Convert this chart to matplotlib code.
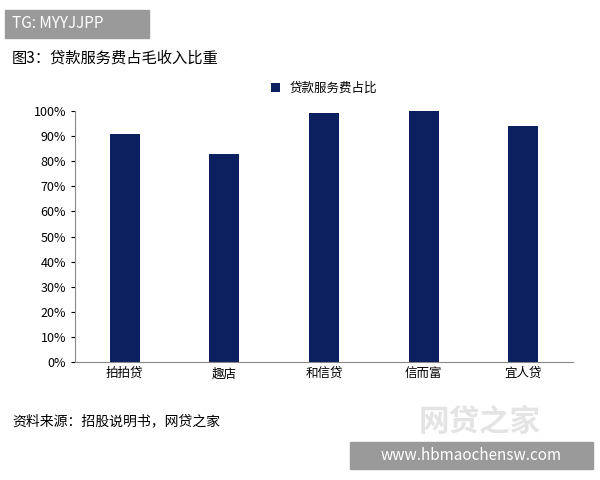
import matplotlib.pyplot as plt
from matplotlib.patches import Rectangle

plt.rcParams['font.family'] = ['Noto Sans CJK SC', 'DejaVu Sans']

categories = ['拍拍贷', '趣店', '和信贷', '信而富', '宜人贷']
share = [0.91, 0.83, 0.99, 1.00, 0.94]
yticks = [i / 10 for i in range(11)]
ytick_labels = [f'{i * 10}%' for i in range(11)]

fig = plt.figure(figsize=(6, 4.8), dpi=100)
ax = fig.add_axes([0.125, 0.245, 0.83, 0.524])

ax.bar(categories, share, width=0.3, color='#0c1f5e', label='贷款服务费占比')
ax.set_ylim(0, 1.0)
ax.set_xlim(-0.5, 4.5)
ax.set_yticks(yticks)
ax.set_yticklabels(ytick_labels, fontsize=9)
ax.tick_params(axis='x', labelsize=9, length=0)
ax.tick_params(axis='y', length=3)
for s in ['top', 'right']:
    ax.spines[s].set_visible(False)
ax.spines['left'].set_color('#888888')
ax.spines['bottom'].set_color('#888888')
ax.legend(loc='lower center', bbox_to_anchor=(0.5, 1.02), frameon=False,
          fontsize=9, handlelength=0.7, handleheight=0.7)

# top-left tag box
fig.patches.append(Rectangle((0.008, 0.921), 0.24, 0.058, transform=fig.transFigure,
                             color='#9a9a9a', zorder=0))
fig.text(0.02, 0.95, 'TG: MYYJJPP', color='white', fontsize=11, va='center')
fig.text(0.02, 0.88, '图3：贷款服务费占毛收入比重', fontsize=11, va='center')
fig.text(0.02, 0.122, '资料来源：招股说明书，网贷之家', fontsize=10, va='center')

# faint watermark
fig.text(0.80, 0.12, '网贷之家', fontsize=22, color='#e4e4e4', ha='center', va='center',
         fontweight='bold')

# bottom-right url box
fig.patches.append(Rectangle((0.583, 0.023), 0.405, 0.056, transform=fig.transFigure,
                             color='#9a9a9a', zorder=0))
fig.text(0.785, 0.051, 'www.hbmaochensw.com', color='white', fontsize=11,
         ha='center', va='center')

fig.savefig('out.png', dpi=100)
